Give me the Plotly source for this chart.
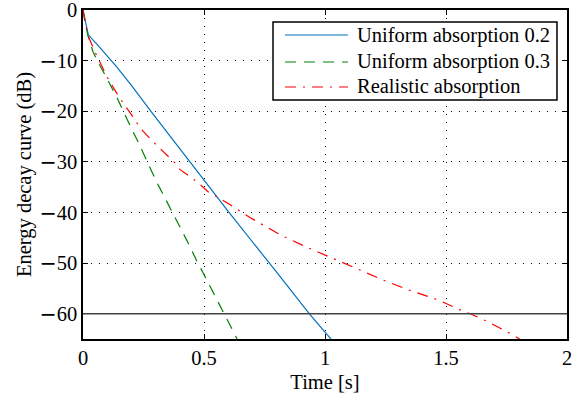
import plotly.graph_objects as go

# ---- data ----
t_u02 = [0, 0.008, 0.016, 0.022, 0.06, 0.1, 0.14, 0.2, 0.28, 0.442, 0.6, 0.8, 0.938, 1.03]
edc_u02 = [0, -1.6, -3.5, -4.9, -6.9, -9.0, -11.3, -14.9, -20.0, -30.0, -39.8, -51.8, -60.2, -65.3]

t_u03 = [0, 0.01, 0.02, 0.041, 0.062, 0.099, 0.145, 0.186, 0.227, 0.285, 0.31, 0.442, 0.471,
         0.496, 0.558, 0.603, 0.64]
edc_u03 = [0, -2.5, -5.0, -8.2, -10.3, -13.5, -17.8, -22.0, -26.0, -32.0, -34.5, -46.7, -49.7,
           -51.9, -57.8, -62.0, -65.3]

t_real = [0, 0.008, 0.02, 0.05, 0.099, 0.149, 0.215, 0.236, 0.289, 0.318, 0.38, 0.40, 0.47,
          0.517, 0.595, 0.69, 0.814, 0.917, 1.033, 1.136, 1.248, 1.351, 1.463, 1.566, 1.6,
          1.669, 1.773, 1.81]
edc_real = [0, -2.4, -5.0, -8.3, -13.2, -17.2, -21.7, -23.3, -26.0, -27.4, -30.2, -31.5, -33.9,
            -35.9, -38.1, -41.0, -44.4, -46.7, -49.1, -51.3, -53.5, -55.4, -57.2, -59.4, -60.0,
            -61.5, -64.1, -65.2]

names = ["Uniform absorption 0.2", "Uniform absorption 0.3", "Realistic absorption"]
colors = ["#0072BD", "#008000", "#FF0000"]
dashes = ["solid", "11px,8px", "11px,7px,2px,7px"]
threshold_db = -60
x_ticks = [0, 0.5, 1, 1.5, 2]
y_ticks = [0, -10, -20, -30, -40, -50, -60]

FONT = '"Liberation Serif", "Times New Roman", Times, serif'
FS = 20.5

# y tick labels with the long minus sign of the original
MINUS = "<span style='font-family:DejaVu Sans'>\u2212</span>"
y_ticktext = [(MINUS + str(abs(v))) if v < 0 else str(v) for v in y_ticks]

fig = go.Figure()
for tx, ty, nm, c, d in zip([t_u02, t_u03, t_real], [edc_u02, edc_u03, edc_real],
                            names, colors, dashes):
    fig.add_trace(go.Scatter(x=tx, y=ty, mode="lines", name=nm,
                             line=dict(color=c, width=1.2, dash=d), showlegend=False))

fig.add_shape(type="line", xref="paper", x0=0, x1=1, yref="y", y0=threshold_db, y1=threshold_db,
              line=dict(color="#444444", width=1.5), layer="above")

# legend box (drawn in paper coordinates, top-right inside the axes)
fig.add_shape(type="rect", xref="paper", yref="paper", x0=0.3926, x1=0.9793, y0=0.7264, y1=0.9635,
              line=dict(color="black", width=1.5), fillcolor="white", layer="above")
row_y = [0.924, 0.842, 0.766]
for ry, nm, c, d in zip(row_y, names, colors, dashes):
    fig.add_shape(type="line", xref="paper", yref="paper", x0=0.4174, x1=0.5475, y0=ry, y1=ry,
                  line=dict(color=c, width=1.2, dash=d), layer="above")
    fig.add_annotation(xref="paper", yref="paper", x=0.562, y=ry, text=nm, showarrow=False,
                       xanchor="left", yanchor="middle",
                       font=dict(family=FONT, size=FS, color="black"))

axis_common = dict(
    showline=True, linecolor="black", linewidth=1.5, mirror="ticks",
    ticks="inside", ticklen=5, tickcolor="black", tickwidth=1,
    showgrid=True, gridcolor="black", gridwidth=1, griddash="1px,7px",
    zeroline=False, tickfont=dict(family=FONT, size=FS, color="black"),
    ticklabeloverflow="allow",
)

fig.update_xaxes(range=[0, 2], tickvals=x_ticks, **axis_common,
                 title=dict(text="Time [s]", font=dict(family=FONT, size=FS, color="black"),
                            standoff=6))
fig.update_yaxes(range=[-65, 0], tickvals=y_ticks, ticktext=y_ticktext, **axis_common,
                 title=dict(text="Energy decay curve (dB)",
                            font=dict(family=FONT, size=FS, color="black"), standoff=2))

fig.update_layout(
    width=575, height=397,
    margin=dict(l=83, r=8, t=10, b=58, autoexpand=False),
    paper_bgcolor="white", plot_bgcolor="white",
    font=dict(family=FONT, size=FS, color="black"),
    showlegend=False,
)

# remove the browser's default 8px body margin so the figure sits at the window origin
fig.write_html("out.html", config={"displayModeBar": False},
               post_script="document.body.style.margin='0';")
